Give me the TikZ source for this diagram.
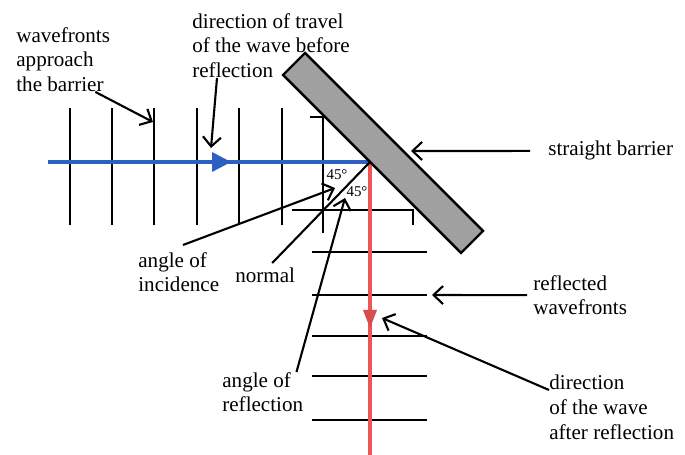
\documentclass[tikz,border=0pt]{standalone}
\usepackage{fontspec}
\setmainfont{Liberation Serif}
\usetikzlibrary{arrows.meta}
\definecolor{rayblue}{RGB}{45,95,195}
\definecolor{rayred}{RGB}{240,85,85}
\definecolor{barriergray}{RGB}{160,160,160}
\tikzset{
    front/.style={line width=1.6pt},
    ptr/.style={line width=1.2pt, -{Straight Barb[length=1.9mm,width=3.6mm]}},
    lbl/.style={anchor=north west, align=left, inner sep=0pt, font=\fontsize{12}{14}\selectfont},
    deg/.style={inner sep=0pt, font=\fontsize{8.5}{10}\selectfont},
}
\begin{document}
\begin{tikzpicture}[x=0.02cm, y=-0.02cm]
        \useasboundingbox (0,0) rectangle (685,455);

        \coordinate (P) at (370,162);
        \coordinate (src) at (48,162);
        \coordinate (sink) at (370,455);

        \foreach \x in {70,112,154,197,239,282}
            \draw[front] (\x,108) -- (\x,225);
        \draw[front] (310,117) -- (323,117) -- (323,233);
        \draw[front] (292,210) -- (413,210) -- (413,225);
        \foreach \y in {252,295,336,376,420}
            \draw[front] (312,\y) -- (427,\y);

        \draw[rayblue, line width=2.2pt] (src) -- (P);
        \fill[rayblue] (212,152) -- (231,162) -- (212,172) -- cycle;
        \draw[rayred, line width=2.2pt] (P) -- (sink);
        \fill[rayred!90!black] (363,310) -- (377,310) -- (370,328) -- cycle;

        \draw[line width=1.4pt, fill=barriergray] (283,75) -- (305,53) -- (483,231) -- (461,253) -- cycle;

        \node[lbl] (wfa) at (16,27) {wavefronts\\approach\\the barrier};
        \node[lbl] (dob) at (192,13) {direction of travel\\of the wave before\\reflection};
        \node[lbl] (sb) at (548,141) {straight barrier};
        \node[lbl] (aoi) at (138,252) {angle of\\incidence};
        \node[lbl] (nrml) at (235,268) {normal};
        \node[lbl] (aor) at (222,372) {angle of\\reflection};
        \node[lbl] (rwf) at (533,275) {reflected\\wavefronts};
        \node[lbl] (doa) at (549,375) {direction\\of the wave\\after reflection};
        \node[deg] (ai) at (337,175) {45°};
        \node[deg] (ar) at (357,192) {45°};

        \coordinate (twf) at (153,122);
        \coordinate (tdb) at (211,148);
        \coordinate (tsb) at (411,151);
        \coordinate (tai) at (335,188);
        \coordinate (tar) at (345,198);
        \coordinate (trw) at (432,295);
        \coordinate (tda) at (382,318);

        \draw[ptr] ([xshift=-0.3cm]wfa.south east) -- (twf);
        \draw[ptr] ([xshift=0.5cm]dob.south west) -- (tdb);
        \draw[ptr] ([xshift=-0.36cm]sb.west) -- (tsb);
        \draw[ptr] ([xshift=0.9cm, yshift=0.14cm]aoi.north west) -- (tai);
        \draw[ptr] ([xshift=-0.14cm]aor.north east) -- (tar);
        \draw[ptr] ([xshift=-0.12cm]rwf.west) -- (trw);
        \draw[ptr] ([yshift=-0.3cm]doa.north west) -- (tda);
        \draw[line width=1.2pt] (P) -- ([xshift=0.14cm, yshift=0.1cm]nrml.north);
    \end{tikzpicture}
\end{document}
